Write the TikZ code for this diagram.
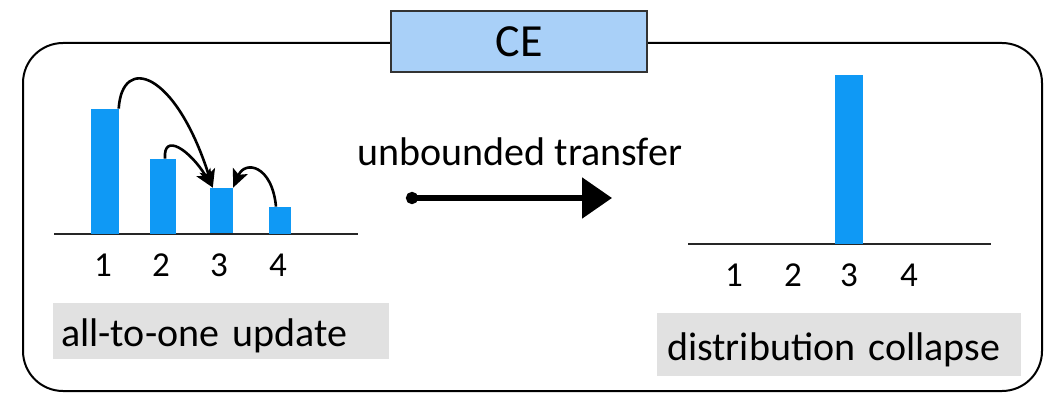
\documentclass[tikz,border=0pt]{standalone}
\usepackage{fontspec}
\setmainfont{Carlito}
\usetikzlibrary{arrows.meta}
\definecolor{barblue}{HTML}{0F99F5}
\definecolor{ceblue}{HTML}{A9D0F8}
\definecolor{capgray}{HTML}{E1E1E1}
\begin{document}
\begin{tikzpicture}[x=1pt,y=-1pt,
  bar/.style={fill=barblue,draw=none,inner sep=0pt,anchor=south},
  axis/.style={line width=2pt,draw=black!85},
  num/.style={font=\fontsize{35}{35}\selectfont,inner sep=0pt,anchor=base},
  caption/.style={fill=capgray,inner sep=0pt,anchor=north west,font=\fontsize{40}{40}\selectfont,text depth=0pt},
  hop/.style={line width=2.6pt,-{Stealth[length=18pt,width=16pt,inset=4pt]}},
]
\useasboundingbox (0,0) rectangle (1063,393);
% outer frame
\draw[line width=2pt,rounded corners=40pt] (23,43) rectangle (1042,391);
% title
\node[draw=black!80,line width=2pt,fill=ceblue,minimum width=256pt,minimum height=61pt,inner sep=0pt,font=\fontsize{46}{46}\selectfont] (ce) at (519,41.5) {CE};
% left chart
\draw[axis] (54,234) coordinate (la) -- (358,234) coordinate (lb);
\node[bar,minimum width=28pt,minimum height=125pt] (b1) at (104.5,234) {};
\node[bar,minimum width=26pt,minimum height=75pt] (b2) at (163,234) {};
\node[bar,minimum width=23pt,minimum height=45pt] (b3) at (221.5,233) {};
\node[bar,minimum width=22pt,minimum height=27pt] (b4) at (280,234) {};
\node[num] (l1) at (103,276) {1};
\node[num] (l2) at (161,276) {2};
\node[num] (l3) at (219,276) {3};
\node[num] (l4) at (278,276) {4};
\draw[hop] (b1.north east) .. controls (122,55) and (175,70) .. ([xshift=3pt]b3.north west);
\draw[hop] ([xshift=2pt]b2.north) .. controls (163,132) and (190,150) .. ([xshift=3pt]b3.north west);
\draw[hop] ([xshift=-4pt]b4.north) .. controls (272,165) and (245,160) .. (b3.north east);
\node[caption,minimum width=336pt,minimum height=56pt,text width=330pt] (c1) at (53,303) {\hspace*{5pt}\raisebox{-3pt}{all-to-one update}};
% middle
\node[font=\fontsize{40}{40}\selectfont,inner sep=0pt] (ut) at (520,152) {unbounded transfer};
\coordinate (ts) at (406,198);
\coordinate (te) at (612,198);
\draw[line width=5.5pt,{Circle[length=12pt,width=12pt]}-{Triangle[length=30pt,width=40pt]}] (ts) -- (te);
% right chart
\draw[axis] (688,244) coordinate (ra) -- (991,244) coordinate (rb);
\node[bar,minimum width=28pt,minimum height=169pt] (r3) at (849,244) {};
\node[num] (m1) at (734,286) {1};
\node[num] (m2) at (793,286) {2};
\node[num] (m3) at (849,286) {3};
\node[num] (m4) at (909,286) {4};
\node[caption,minimum width=364pt,minimum height=63pt,text width=358pt] (c2) at (657,313) {\hspace*{7pt}\raisebox{-4pt}{distribution collapse}};
\end{tikzpicture}
\end{document}
